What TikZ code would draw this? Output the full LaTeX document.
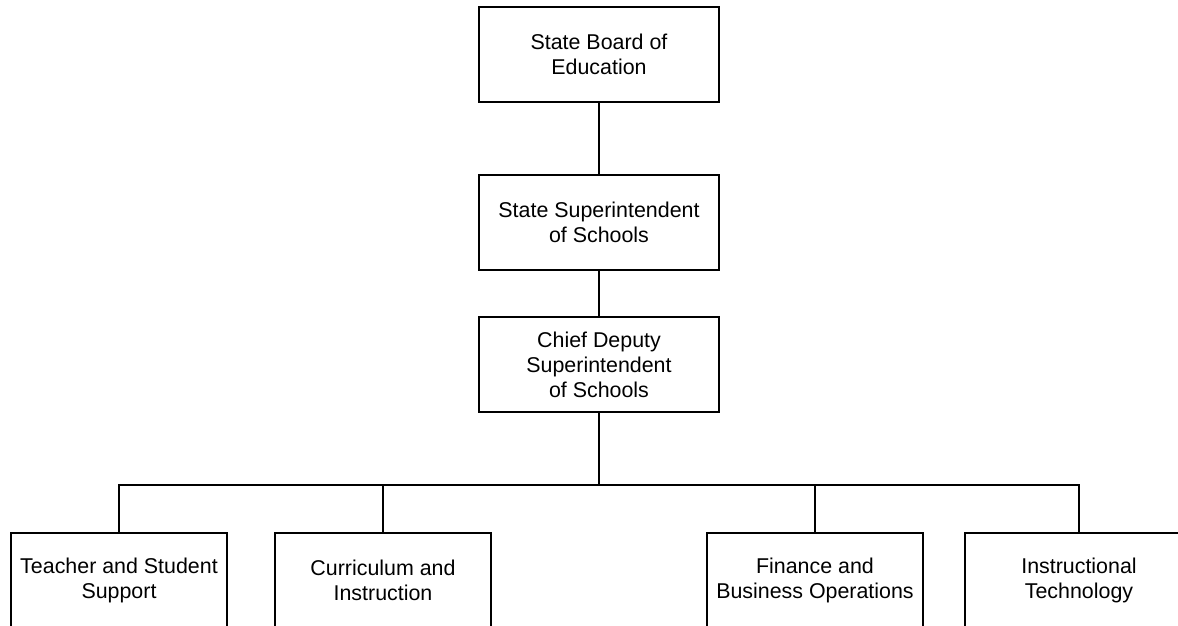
\documentclass[tikz,border=0pt]{standalone}
\usepackage{fontspec}
\setmainfont{Liberation Sans}
\begin{document}
\begin{tikzpicture}[x=1pt,y=-1pt,
  orgbox/.style={draw, line width=1.3pt, rectangle, inner sep=0pt, align=center,
    minimum height=95pt, font=\fontsize{21.4}{25}\selectfont},
  link/.style={line width=1.3pt}]
\useasboundingbox (0,0) rectangle (1178,626);
\clip (0,0) rectangle (1178,626);
\node[orgbox, minimum width=240pt] (b1) at (599,54.5) {State Board of\\Education};
\node[orgbox, minimum width=240pt] (b2) at (599,222.5) {State Superintendent\\of Schools};
\node[orgbox, minimum width=240pt] (b3) at (599,364.5) {Chief Deputy\\Superintendent\\of Schools};
\node[orgbox, minimum width=216pt] (c1) at (119,580.5) {Teacher and Student\\Support};
\node[orgbox, minimum width=216pt] (c2) at (383,580.5) {Curriculum and\\Instruction};
\node[orgbox, minimum width=216pt] (c3) at (815,580.5) {Finance and\\Business Operations};
\node[orgbox, minimum width=228pt] (c4) at (1079,580.5) {Instructional\\Technology};
\coordinate (bus) at (599,485);
\draw[link] (b1.south) -- (b2.north);
\draw[link] (b2.south) -- (b3.north);
\draw[link] (b3.south) -- (bus);
\draw[link] (c1.north) |- (bus) -| (c4.north);
\draw[link] (c2.north) -- (c2.north |- bus);
\draw[link] (c3.north) -- (c3.north |- bus);
\end{tikzpicture}
\end{document}
